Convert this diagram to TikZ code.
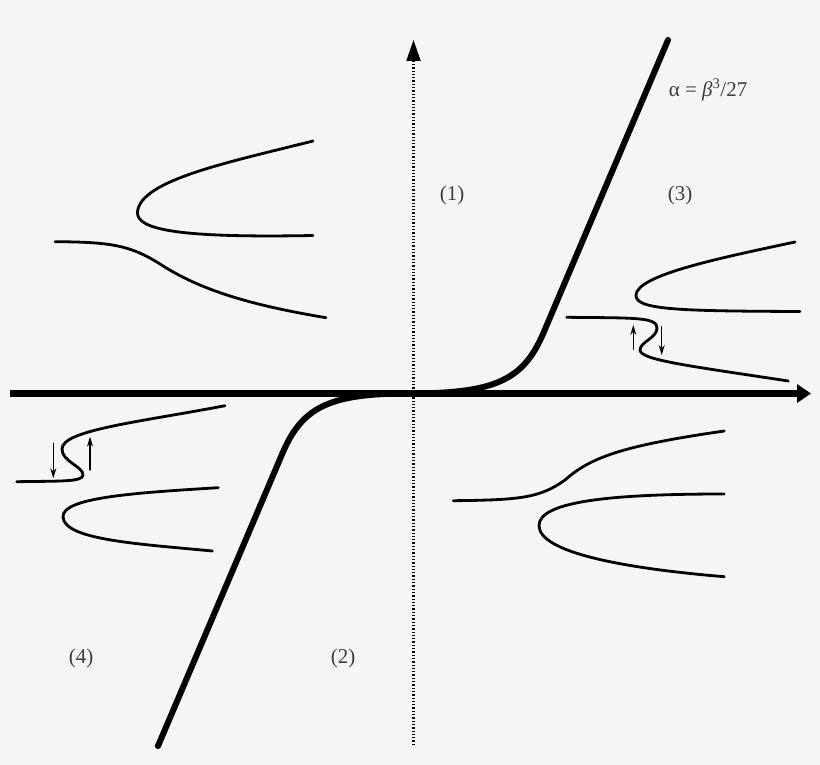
\documentclass[tikz,border=0pt]{standalone}
\usepackage{fontspec}
\setmainfont{Liberation Serif}
\usetikzlibrary{arrows.meta}
\definecolor{bgcol}{HTML}{F5F5F5}
\definecolor{txtcol}{HTML}{3C3C3C}

\begin{document}
\begin{tikzpicture}[line cap=round,line join=round,x=1pt,y=-1pt,
		branch/.style={line width=2.8pt},
		flow/.style={line width=1.3pt,-{Stealth[length=10pt,width=6pt]}},
		lab/.style={text=txtcol,font=\fontsize{21}{24}\selectfont}]
		\fill [bgcol] (0,0) rectangle (820,765);
		\useasboundingbox (0,0) rectangle (820,765);
		\draw [line width=7pt,line cap=butt,-{Triangle[length=14pt,width=18pt]}] (10,393.5)-- (811,393.5);
		\draw [line width=2.2pt,line cap=butt,dash pattern=on 1.3pt off 2pt,-{Triangle[length=21pt,width=14pt]}] (413.5,745)-- (413.5,40);
		\draw [line width=6pt] (158,746)-- (283,452) .. controls (303,406) and (331,393) .. (413,393.5) .. controls (495,393) and (523,380) .. (543,334)-- (668,40);
		\draw [branch] (313,141) .. controls (230,162) and (140,180) .. (137.5,212) .. controls (136,230) and (180,238) .. (313,235.5);
		\draw [branch] (55,241.7) .. controls (110,242) and (130,245) .. (160,264) .. controls (200,290) and (250,305) .. (326,317.7);
		\draw [branch] (795,242) .. controls (720,258) and (637,275) .. (636,295) .. controls (635,310) and (680,311) .. (800,311.5);
		\draw [branch] (566.7,317.3) .. controls (635,318) and (657,317) .. (657,328) .. controls (657,338) and (640,342) .. (640,350) .. controls (640,360) and (690,366) .. (788.3,381);
		\draw [flow] (633.3,349.3)-- (633.3,325);
		\draw [flow] (661.7,326.7)-- (661.7,355);
		\draw [branch] (225,405.7) .. controls (140,422) and (62,430) .. (62,449) .. controls (62,462) and (83,466) .. (83,475) .. controls (83,482) and (60,481) .. (16.7,481.7);
		\draw [flow] (53.3,443.3)-- (53.3,478.3);
		\draw [flow] (90,470)-- (90,436.7);
		\draw [branch] (218.3,487.7) .. controls (130,493) and (62,498) .. (63,517) .. controls (64,540) and (140,544) .. (212.3,551);
		\draw [branch] (453.3,500.7) .. controls (520,500) and (540,498) .. (565,480) .. controls (590,458) and (620,446) .. (724.3,431);
		\draw [branch] (724.3,494) .. controls (620,494) and (538,500) .. (539,526) .. controls (540,552) and (620,568) .. (724.3,576.7);
		\draw (708,90) node[lab] (curvelab) {α = \textit{β}\textsuperscript{3}/27};
		\draw (452,195) node[lab] (reg1) {(1)};
		\draw (680,195) node[lab] (reg3) {(3)};
		\draw (343,658) node[lab] (reg2) {(2)};
		\draw (81,658) node[lab] (reg4) {(4)};
	\end{tikzpicture}
\end{document}
